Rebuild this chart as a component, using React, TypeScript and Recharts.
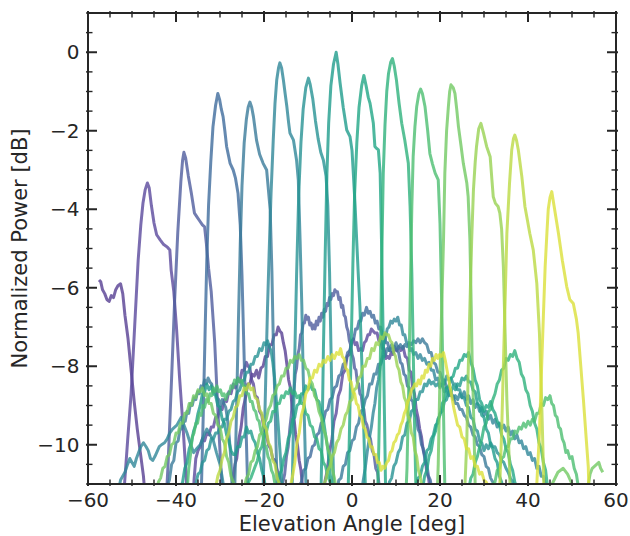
import React from 'react';
import { LineChart, Line, XAxis, YAxis } from 'recharts';

type Pt = [number, number];

// tick positions (minor + major) and the labelled ones
const xTicks = [-60, -55, -50, -45, -40, -35, -30, -25, -20, -15, -10, -5, 0, 5, 10, 15, 20, 25, 30, 35, 40, 45, 50, 55, 60];
const xLabelTicks = [-60, -40, -20, 0, 20, 40, 60];
const yTicks = [-11, -10.5, -10, -9.5, -9, -8.5, -8, -7.5, -7, -6.5, -6, -5.5, -5, -4.5, -4, -3.5, -3, -2.5, -2, -1.5, -1, -0.5, 0, 0.5, 1];
const yLabelTicks = [-10, -8, -6, -4, -2, 0];

// one array per beam: [elevation deg, power dB]
const beam00: Pt[] = [[-57.5,-5.8],[-57.1,-5.85],[-56.7,-6.05],[-56.2,-6.15],[-55.7,-6.3],[-55.2,-6.35],[-54.7,-6.2],[-54.2,-6.25],[-53.7,-6.05],[-53.2,-5.95],[-52.6,-5.9],[-52.1,-6.15],[-51.6,-6.7],[-50.9,-7.3],[-50.2,-8.1],[-49.5,-8.9],[-48.8,-9.6],[-48.1,-10.2],[-47.4,-10.8],[-46.8,-11.6],[-44,-12.6],[-30,-12.6],[-27.6,-11.2],[-27.1,-10.95],[-26.6,-10.5],[-26.2,-10.35],[-25.7,-9.85],[-25.2,-9.55],[-24.7,-9.05],[-24.2,-8.8],[-23.7,-8.45],[-23.2,-8.45],[-22.7,-8.2],[-22.2,-8.25],[-21.7,-8.1],[-21.2,-8.3],[-20.7,-8.05],[-20.2,-8],[-19.7,-7.75],[-19.2,-7.75],[-18.7,-7.45],[-18.2,-7.45],[-17.7,-7.2],[-17.2,-7.2],[-16.8,-7],[-16.4,-7.1],[-16,-7.15],[-15.6,-7.4],[-15.2,-7.6],[-14.8,-7.95],[-14.4,-8.35],[-14,-8.55],[-13.6,-9.05],[-13.2,-9.3],[-12.8,-9.75],[-12.4,-10],[-12,-10.4],[-11.6,-10.65],[-11.2,-11.1],[-9,-12.6]];
const beam01: Pt[] = [[-52.2,-12.4],[-51.7,-11],[-51,-9.9],[-50.2,-8.7],[-49.4,-7],[-48.6,-5.3],[-48,-4.4],[-47.5,-3.84],[-47,-3.5],[-46.5,-3.33],[-46.1,-3.45],[-45.6,-3.9],[-45,-4.35],[-44.4,-4.65],[-43.6,-4.78],[-42.8,-4.9],[-42,-4.96],[-41.4,-5.04],[-41.1,-5.55],[-40.5,-6.1],[-39.9,-7],[-39.2,-8.27],[-38.4,-9.54],[-37.7,-10.8],[-37.2,-12.2],[-36.5,-12.4],[-35.9,-10.9],[-35.5,-10.35],[-35,-10.15],[-34.5,-10.05],[-34,-9.85],[-33.5,-9.9],[-33,-9.7],[-32.5,-9.75],[-32,-9.55],[-31.5,-9.55],[-31,-9.3],[-30.5,-9.3],[-30,-9.05],[-29.5,-9.1],[-29,-8.85],[-28.5,-8.9],[-28,-8.65],[-27.5,-8.7],[-27,-8.45],[-26.5,-8.55],[-26,-8.3],[-25.5,-8.4],[-25,-8.1],[-24.5,-8.1],[-24,-7.9],[-23.6,-8],[-23.2,-8.05],[-22.8,-8.35],[-22.4,-8.45],[-22,-8.75],[-21.5,-8.8],[-21,-9.15],[-20.5,-9.25],[-20,-9.6],[-19.5,-9.7],[-19,-10],[-18.5,-10.1],[-18,-10.35],[-17.5,-10.4],[-17,-10.65],[-16.5,-10.8],[-16,-11.1],[-15.5,-11.4],[-14,-12.4],[-8,-12.6],[-6.6,-11.4],[-6.1,-10.9],[-5.6,-10.65],[-5.1,-10.15],[-4.6,-9.9],[-4.1,-9.4],[-3.6,-9.2],[-3.1,-8.75],[-2.6,-8.6],[-2.1,-8.2],[-1.6,-8.1],[-1.1,-7.75],[-0.6,-7.7],[-0.1,-7.4],[0.3,-7.3],[0.7,-7.45],[1.1,-7.4],[1.5,-7.6],[2,-7.55],[2.4,-7.6],[2.8,-7.4],[3.2,-7.35],[3.6,-7.2],[4,-7.2],[4.4,-7.05],[4.8,-7.1],[5.2,-7.15],[5.7,-7.15],[6.1,-7.35],[6.5,-7.3],[6.9,-7.55],[7.3,-7.55],[7.7,-7.8],[8.1,-7.75],[8.5,-7.8],[8.9,-7.65],[9.3,-7.7],[9.7,-7.55],[10.2,-7.6],[10.6,-7.5],[11.1,-7.6],[11.6,-7.5],[12.1,-7.75],[12.6,-7.8],[13,-8.1],[13.4,-8.15],[13.8,-8.55],[14.2,-8.7],[14.6,-9.1],[15,-9.3],[15.4,-9.6],[15.8,-9.8],[16.2,-10.15],[16.6,-10.3],[17,-10.7],[17.4,-10.85],[17.8,-11.2],[18.2,-11.4],[19.5,-12.4]];
const beam02: Pt[] = [[-42.6,-12.2],[-41.8,-10.5],[-41,-8.3],[-40.3,-6.3],[-39.6,-4.6],[-38.9,-3.3],[-38.5,-2.75],[-38.2,-2.55],[-37.8,-2.7],[-37.2,-3.15],[-36.5,-3.6],[-35.8,-4.1],[-35.2,-4.2],[-34.6,-4.3],[-34,-4.4],[-33.5,-4.45],[-33.1,-4.87],[-32.6,-5.5],[-32,-6.1],[-31.2,-7.4],[-30.5,-9.1],[-29.7,-10.8],[-29.2,-12.2],[-20,-12.6],[-16.2,-11.5],[-15.8,-11],[-15.3,-10.75],[-14.9,-10.3],[-14.5,-10.05],[-14.1,-9.55],[-13.8,-9.25],[-13.5,-8.8],[-13.2,-8.65],[-12.9,-8.2],[-12.6,-8.05],[-12.3,-7.7],[-12,-7.55],[-11.7,-7.2],[-11.4,-7.15],[-11.1,-6.9],[-10.8,-6.9],[-10.5,-6.7],[-10.2,-6.8],[-9.9,-6.75],[-9.6,-6.95],[-9.3,-6.9],[-9,-7.05],[-8.7,-6.95],[-8.4,-7.05],[-8.1,-6.85],[-7.8,-6.95],[-7.5,-6.75],[-7.2,-6.85],[-6.9,-6.65],[-6.6,-6.75],[-6.3,-6.55],[-6,-6.6],[-5.7,-6.4],[-5.4,-6.45],[-5.1,-6.25],[-4.8,-6.3],[-4.5,-6.15],[-4.2,-6.2],[-3.9,-6.05],[-3.6,-6.1],[-3.3,-6.1],[-3,-6.3],[-2.7,-6.25],[-2.4,-6.5],[-2.1,-6.45],[-1.8,-6.7],[-1.5,-6.75],[-1.2,-7],[-0.9,-7.1],[-0.6,-7.35],[-0.3,-7.45],[0,-7.7],[0.3,-7.8],[0.6,-8.05],[0.9,-8.1],[1.2,-8.4],[1.5,-8.45],[1.8,-8.7],[2.1,-8.75],[2.4,-9.05],[2.7,-9.1],[3,-9.4],[3.4,-9.5],[3.8,-9.75],[4.2,-9.85],[4.6,-10.15],[5,-10.25],[5.4,-10.6],[5.8,-10.7],[6.2,-11.05],[6.6,-11.2],[7.5,-12.4]];
const beam03: Pt[] = [[-34.6,-12.3],[-34.2,-11],[-33.8,-9.2],[-33.4,-7.2],[-33,-5.3],[-32.6,-3.9],[-32.1,-2.8],[-31.6,-1.9],[-31,-1.35],[-30.5,-1.05],[-30.1,-1.2],[-29.7,-1.45],[-29.3,-1.64],[-28.9,-2],[-28.5,-2.4],[-27.7,-2.83],[-27,-3],[-26.5,-3.2],[-25.9,-3.6],[-25.4,-4.4],[-25,-5.7],[-24.6,-7.4],[-24.2,-9.1],[-23.8,-10.7],[-23.5,-12.2],[-16,-12.6],[-12.5,-11.4],[-12,-11.05],[-11.5,-10.95],[-11,-10.65],[-10.5,-10.6],[-10,-10.35],[-9.5,-10.3],[-9,-10.05],[-8.5,-10],[-8,-9.75],[-7.5,-9.7],[-7,-9.45],[-6.5,-9.4],[-6,-9.15],[-5.5,-9.1],[-5,-8.85],[-4.5,-8.8],[-4,-8.55],[-3.5,-8.5],[-3,-8.25],[-2.5,-8.2],[-2,-7.95],[-1.5,-7.9],[-1,-7.65],[-0.5,-7.6],[0,-7.35],[0.4,-7.3],[0.8,-7.05],[1.2,-7.05],[1.6,-6.85],[2,-6.85],[2.4,-6.65],[2.8,-6.7],[3.3,-6.5],[3.7,-6.65],[4.1,-6.6],[4.5,-6.75],[4.9,-6.7],[5.3,-6.9],[5.7,-6.85],[6.1,-7.05],[6.5,-7],[6.9,-7.2],[7.3,-7.2],[7.7,-7.4],[8.1,-7.4],[8.5,-7.6],[8.9,-7.55],[9.3,-7.65],[9.7,-7.5],[10.2,-7.6],[10.6,-7.65],[11,-7.9],[11.4,-7.95],[11.8,-8.2],[12.2,-8.25],[12.6,-8.5],[13,-8.55],[13.4,-8.85],[13.8,-8.9],[14.2,-9.2],[14.6,-9.3],[15,-9.6],[15.4,-9.7],[15.8,-10],[16.2,-10.1],[16.6,-10.4],[17,-10.5],[17.4,-10.8],[17.8,-10.9],[18.2,-11.2],[18.6,-11.3],[19,-11.6],[21,-12.5]];
const beam04: Pt[] = [[-46,-12.6],[-42.5,-11.4],[-42,-11.05],[-41.5,-10.9],[-41,-10.5],[-40.5,-10.4],[-40,-9.95],[-39.5,-9.9],[-39.1,-9.6],[-38.7,-9.6],[-38.3,-9.4],[-37.9,-9.4],[-37.5,-9.15],[-37.1,-9.2],[-36.7,-8.95],[-36.3,-9],[-35.9,-8.8],[-35.5,-8.85],[-35.1,-8.65],[-34.7,-8.7],[-34.3,-8.5],[-33.9,-8.55],[-33.5,-8.35],[-33.1,-8.45],[-32.7,-8.3],[-32.3,-8.4],[-31.9,-8.45],[-31.5,-8.65],[-31.1,-8.6],[-30.7,-8.8],[-30.3,-8.85],[-29.9,-9],[-29.5,-8.85],[-29.1,-8.95],[-28.7,-9.05],[-28.3,-9.35],[-27.9,-9.8],[-27.5,-10.4],[-27.1,-11.5],[-26.9,-12.2],[-26.6,-10.9],[-26.2,-8.9],[-25.8,-6.8],[-25.4,-4.9],[-25,-3.4],[-24.5,-2.3],[-24,-1.7],[-23.6,-1.4],[-23.2,-1.27],[-22.8,-1.4],[-22.4,-1.64],[-21.7,-2.24],[-21,-2.6],[-20.2,-2.83],[-19.4,-3],[-19,-3.5],[-18.6,-4],[-18.2,-5.6],[-17.9,-7.3],[-17.5,-9],[-17.1,-10.7],[-16.8,-12.2],[-8,-12.6],[-4,-11.4],[-3.5,-11.25],[-3,-10.9],[-2.5,-10.85],[-2,-10.55],[-1.5,-10.5],[-1,-10.2],[-0.5,-10.15],[0,-9.9],[0.5,-9.85],[1,-9.55],[1.5,-9.45],[2,-9.15],[2.5,-9.1],[3,-8.85],[3.5,-8.75],[4,-8.45],[4.5,-8.45],[5,-8.2],[5.5,-8.2],[6,-7.95],[6.5,-7.95],[7,-7.75],[7.5,-7.75],[8,-7.55],[8.5,-7.6],[9,-7.45],[9.5,-7.55],[10,-7.4],[10.5,-7.55],[11,-7.45],[11.5,-7.55],[12,-7.45],[12.5,-7.5],[13,-7.4],[13.5,-7.45],[14,-7.35],[14.5,-7.4],[15,-7.3],[15.5,-7.4],[16,-7.3],[16.5,-7.4],[17,-7.45],[17.5,-7.65],[18,-7.65],[18.5,-7.9],[19,-7.95],[19.5,-8.15],[20,-8.15],[20.5,-8.35],[21,-8.35],[21.5,-8.55],[22,-8.55],[22.5,-8.75],[23,-8.75],[23.5,-8.95],[24,-8.95],[24.5,-9.1],[25,-9.1],[25.5,-9.25],[26,-9.3],[26.5,-9.5],[27,-9.55],[27.5,-9.75],[28,-9.8],[28.5,-10],[29,-10.05],[29.5,-10.25],[30,-10.3],[30.5,-10.55],[31,-10.6],[31.5,-10.85],[32,-10.95],[32.5,-11.2],[33.5,-11.6],[35,-12.5]];
const beam05: Pt[] = [[-54.5,-12.2],[-53.5,-11.4],[-52.6,-10.9],[-51.6,-10.7],[-51,-10.5],[-50.5,-10.35],[-50,-10.45],[-49.5,-10.55],[-49,-10.35],[-48.5,-10.2],[-48,-10.05],[-47.4,-9.95],[-46.8,-10.05],[-46.3,-10.15],[-45.8,-10.35],[-45.3,-10.4],[-44.8,-10.3],[-44.4,-10.2],[-43.8,-10.05],[-43.3,-10],[-42.6,-9.95],[-42,-9.85],[-41.4,-9.7],[-40.8,-9.6],[-40.3,-9.55],[-39.8,-9.5],[-39.3,-9.4],[-38.8,-9.3],[-38.2,-9.5],[-37.5,-9.7],[-36.8,-9.95],[-36,-10.2],[-35.3,-10.1],[-34.5,-10],[-33.8,-9.8],[-33,-9.6],[-32.2,-9.75],[-31.5,-9.9],[-30.8,-10.2],[-30,-10.5],[-29.4,-10.9],[-28.8,-11.4],[-28,-12.3],[-21,-12.4],[-20.3,-11.6],[-20,-10.2],[-19.6,-8.3],[-19.2,-6.5],[-18.8,-5],[-18.4,-3.6],[-17.9,-2.24],[-17.5,-1.3],[-17.1,-0.7],[-16.7,-0.4],[-16.4,-0.27],[-16,-0.4],[-15.6,-0.7],[-15.2,-1.05],[-14.8,-1.39],[-14.4,-1.8],[-14.1,-2.06],[-13.3,-2.24],[-12.6,-2.75],[-12.2,-3.26],[-11.8,-4.78],[-11.4,-6.48],[-11.1,-8.2],[-10.7,-9.9],[-10.4,-11.4],[-10.1,-12.3],[-1,-12.6],[2,-11.4],[2.5,-10.95],[3,-10.6],[3.5,-10.15],[4,-9.8],[4.4,-9.55],[4.8,-9.2],[5.2,-8.95],[5.6,-8.55],[6,-8.35],[6.4,-8],[6.8,-7.8],[7.2,-7.45],[7.6,-7.3],[8,-7.05],[8.4,-7],[8.8,-6.85],[9.2,-6.9],[9.6,-6.8],[10,-6.85],[10.4,-6.75],[10.8,-6.95],[11.2,-6.95],[11.6,-7.2],[12,-7.2],[12.4,-7.4],[12.8,-7.4],[13.2,-7.6],[13.6,-7.55],[14,-7.7],[14.5,-7.65],[15,-7.8],[15.5,-7.7],[16,-7.85],[16.5,-7.8],[17,-7.95],[17.5,-7.9],[18,-8.1],[18.5,-8.1],[19,-8.35],[19.5,-8.3],[20,-8.5],[20.5,-8.45],[21,-8.65],[21.5,-8.55],[22,-8.75],[22.5,-8.65],[23,-8.85],[23.5,-8.75],[24,-8.85],[24.5,-8.7],[25,-8.8],[25.5,-8.65],[26,-8.85],[26.5,-8.75],[27,-8.95],[27.5,-8.85],[28,-9.05],[28.5,-8.95],[29,-9.15],[29.5,-9.05],[30,-9.25],[30.5,-9.15],[31,-9.35],[31.5,-9.25],[32,-9.45],[32.5,-9.35],[33,-9.55],[33.5,-9.45],[34,-9.6],[34.5,-9.5],[35,-9.65],[35.5,-9.55],[36,-9.75],[36.5,-9.65],[37,-9.85],[37.5,-9.75],[38,-9.95],[38.5,-9.9],[39,-10.1],[39.5,-10.05],[40,-10.25],[40.5,-10.2],[41,-10.4],[41.5,-10.35],[42,-10.6],[42.5,-10.55],[43,-10.8],[43.5,-10.8],[44,-11.05],[44.5,-11.1],[45.5,-11.4],[47,-12.3]];
const beam06: Pt[] = [[-40,-12.5],[-36.5,-11.4],[-36,-11.1],[-35.5,-11],[-35,-10.75],[-34.5,-10.7],[-34,-10.45],[-33.5,-10.4],[-33,-10.15],[-32.5,-10.1],[-32,-9.85],[-31.5,-9.85],[-31,-9.7],[-30.5,-9.7],[-30,-9.55],[-29.5,-9.55],[-29,-9.35],[-28.5,-9.35],[-28,-9.15],[-27.5,-9.1],[-27,-8.9],[-26.5,-8.85],[-26,-8.65],[-25.5,-8.6],[-25,-8.4],[-24.5,-8.35],[-24,-8.15],[-23.5,-8.15],[-23,-7.95],[-22.5,-7.95],[-22,-7.75],[-21.5,-7.75],[-21,-7.55],[-20.5,-7.6],[-20,-7.4],[-19.6,-7.45],[-19.2,-7.35],[-18.8,-7.5],[-18.4,-7.6],[-18,-7.9],[-17.6,-8.3],[-17.2,-8.85],[-16.8,-9.45],[-16.4,-10.1],[-16,-10.8],[-15.5,-11.7],[-14.5,-12.5],[-13.9,-12.2],[-13.5,-10.6],[-13.1,-8.2],[-12.6,-5.7],[-12.1,-3.6],[-11.6,-2.3],[-11.1,-1.45],[-10.5,-0.9],[-9.9,-0.66],[-9.5,-0.82],[-8.9,-1.2],[-8.3,-1.75],[-7.7,-2.2],[-7.1,-2.55],[-6.5,-2.75],[-5.9,-3.15],[-5.5,-3.9],[-5.1,-5.6],[-4.8,-7.4],[-4.5,-9.2],[-4.2,-10.9],[-3.9,-12.3],[4,-12.6],[7.5,-11.4],[8,-11.25],[8.5,-10.95],[9,-10.85],[9.5,-10.55],[10,-10.45],[10.5,-10.2],[11,-10.1],[11.5,-9.8],[12,-9.75],[12.5,-9.45],[13,-9.4],[13.5,-9.15],[14,-9.1],[14.5,-8.85],[15,-8.85],[15.5,-8.65],[16,-8.65],[16.5,-8.45],[17,-8.5],[17.5,-8.35],[18,-8.45],[18.5,-8.4],[19,-8.5],[19.5,-8.45],[20,-8.55],[20.5,-8.4],[21,-8.45],[21.5,-8.25],[22,-8.35],[22.5,-8.3],[23,-8.45],[23.5,-8.45],[24,-8.6],[24.5,-8.6],[25,-8.8],[25.5,-8.8],[26,-9],[26.5,-9.05],[27,-9.3],[27.5,-9.35],[28,-9.6],[28.5,-9.65],[29,-9.9],[29.5,-9.95],[30,-10.15],[30.5,-10],[31,-10.1],[31.5,-9.95],[32,-10.05],[32.5,-10.05],[33,-10.2],[33.5,-10.25],[34,-10.4],[34.5,-10.45],[35,-10.6],[35.5,-10.7],[36,-10.85],[36.5,-10.95],[37,-11.15],[38,-11.4],[40,-12.4]];
const beam07: Pt[] = [[-43,-12.6],[-39.5,-11.4],[-39,-11.1],[-38.5,-10.95],[-38,-10.6],[-37.5,-10.45],[-37,-10.1],[-36.5,-9.95],[-36,-9.65],[-35.5,-9.5],[-35,-9.2],[-34.5,-9],[-34,-8.7],[-33.5,-8.65],[-33,-8.45],[-32.5,-8.6],[-32,-8.5],[-31.5,-8.7],[-31,-8.75],[-30.5,-9],[-30,-9.05],[-29.5,-9.35],[-29,-9.45],[-28.5,-9.75],[-28,-9.9],[-27.5,-10.15],[-27,-10.25],[-26.5,-10.25],[-26,-10.05],[-25.5,-10.05],[-25,-9.8],[-24.5,-9.8],[-24,-9.55],[-23.5,-9.7],[-23,-9.65],[-22.5,-9.85],[-22,-9.95],[-21.5,-10.2],[-21,-10.35],[-20.5,-10.65],[-20,-10.85],[-19.5,-11.2],[-18,-12.4],[-8,-12.5],[-7.2,-12.1],[-6.8,-9.8],[-6.5,-7.6],[-6.1,-5.2],[-5.7,-3.1],[-5.3,-1.8],[-4.8,-0.85],[-4.2,-0.3],[-3.6,0],[-3.2,-0.3],[-2.7,-0.79],[-2,-1.4],[-1.2,-1.98],[-0.45,-2.15],[0,-2.5],[0.3,-3.08],[0.7,-3.9],[1.06,-4.78],[1.4,-5.6],[1.8,-6.48],[2.2,-7.8],[2.6,-9.3],[2.95,-10.7],[3.3,-12.2],[10,-12.6],[13.5,-11.4],[14,-11.2],[14.5,-11.05],[15,-10.85],[15.5,-10.8],[16,-10.55],[16.5,-10.45],[17,-10.15],[17.5,-10.1],[18,-9.85],[18.5,-9.75],[19,-9.5],[19.5,-9.45],[20,-9.2],[20.5,-9.15],[21,-8.9],[21.5,-8.85],[22,-8.65],[22.5,-8.65],[23,-8.5],[23.5,-8.6],[24,-8.45],[24.5,-8.5],[25,-8.3],[25.5,-8.35],[26,-8.25],[26.5,-8.4],[27,-8.4],[27.5,-8.6],[28,-8.65],[28.5,-8.95],[29,-9],[29.5,-9.25],[30,-9.3],[30.5,-9.6],[31,-9.7],[31.5,-10],[32,-10.1],[32.5,-10.35],[33,-10.45],[33.5,-10.8],[34,-10.95],[35.5,-11.8],[37,-12.5]];
const beam08: Pt[] = [[-21,-12.6],[-17.5,-11.3],[-17,-11.1],[-16.5,-10.75],[-16,-10.65],[-15.5,-10.35],[-15,-10.2],[-14.5,-9.85],[-14,-9.7],[-13.5,-9.35],[-13,-9.3],[-12.5,-9],[-12,-8.95],[-11.5,-8.7],[-11,-8.7],[-10.5,-8.5],[-10,-8.6],[-9.5,-8.45],[-9,-8.6],[-8.5,-8.6],[-8,-8.85],[-7.5,-8.9],[-7,-9.2],[-6.5,-9.35],[-6,-9.75],[-5.5,-10.1],[-5,-10.7],[-4.5,-11.2],[-3.6,-12.2],[-1.3,-12.4],[-0.9,-11.3],[-0.6,-9.8],[-0.2,-7.6],[0.2,-5.4],[0.6,-3.6],[1.1,-2.3],[1.6,-1.4],[2.2,-0.85],[2.7,-0.59],[3.2,-0.85],[3.7,-1.15],[4.1,-1.3],[4.85,-1.81],[5.2,-2.4],[5.6,-2.45],[6,-2.49],[6.4,-3.08],[6.7,-4.78],[7.1,-7.33],[7.4,-9.4],[7.6,-10.9],[7.9,-12.2],[12,-12.6],[15.5,-11.3],[16,-11.15],[16.5,-10.8],[17,-10.65],[17.5,-10.3],[18,-10.15],[18.5,-9.8],[19,-9.65],[19.5,-9.35],[20,-9.25],[20.5,-8.95],[21,-8.85],[21.5,-8.55],[22,-8.5],[22.5,-8.3],[23,-8.25],[23.5,-8.05],[24,-8.05],[24.5,-7.85],[25,-7.85],[25.5,-7.7],[26,-7.75],[26.5,-7.65],[27,-7.9],[27.5,-8.05],[28,-8.35],[28.5,-8.5],[29,-8.85],[29.5,-8.95],[30,-9.15],[30.5,-9],[31,-9.05],[31.5,-8.9],[32,-9.1],[32.5,-9.2],[33,-9.4],[33.5,-9.5],[34,-9.75],[34.5,-9.85],[35,-10.1],[35.5,-10.2],[36,-10.5],[36.5,-10.65],[37,-10.95],[37.5,-11.1],[39,-12.3]];
const beam09: Pt[] = [[-29,-12.6],[-25,-11.5],[-24.5,-11.3],[-24,-11.2],[-23.5,-10.95],[-23,-10.85],[-22.5,-10.7],[-22,-10.55],[-21.5,-10.4],[-21,-10.15],[-20.5,-10.05],[-20,-9.75],[-19.5,-9.7],[-19,-9.45],[-18.5,-9.4],[-18,-9.15],[-17.5,-9.15],[-17,-8.95],[-16.5,-8.95],[-16,-8.75],[-15.5,-8.8],[-15,-8.65],[-14.5,-8.7],[-14,-8.55],[-13.5,-8.7],[-13,-8.65],[-12.5,-8.8],[-12,-8.75],[-11.5,-8.95],[-11,-8.95],[-10.5,-9.2],[-10,-9.25],[-9.5,-9.5],[-9,-9.55],[-8.5,-9.8],[-8,-9.85],[-7.5,-10.1],[-7,-10.15],[-6.5,-10.45],[-6,-10.55],[-5.5,-10.8],[-5,-10.95],[-4,-11.5],[-2,-12.5],[5.4,-12.4],[5.8,-11.4],[6.1,-10],[6.4,-8.2],[6.7,-5.7],[7.1,-3.1],[7.5,-1.85],[7.9,-1],[8.3,-0.54],[8.8,-0.25],[9.2,-0.16],[9.6,-0.35],[10.1,-0.71],[10.7,-1.3],[11.3,-1.81],[12,-2.24],[12.8,-2.83],[13.2,-3.93],[13.6,-5.63],[13.9,-7.5],[14.2,-9.4],[14.5,-11],[14.8,-12.3],[22,-12.6],[26,-11.3],[26.5,-11.15],[27,-10.85],[27.5,-10.75],[28,-10.45],[28.5,-10.3],[29,-10.05],[29.5,-9.85],[30,-9.55],[30.5,-9.45],[31,-9.15],[31.5,-9.1],[32,-8.85],[32.5,-8.7],[33,-8.45],[33.5,-8.35],[34,-8.1],[34.5,-8.05],[35,-7.8],[35.5,-7.85],[36,-7.7],[36.5,-7.75],[37,-7.6],[37.5,-7.8],[38,-7.9],[38.5,-8.2],[39,-8.3],[39.5,-8.6],[40,-8.7],[40.5,-9],[41,-9.15],[41.5,-9.45],[42,-9.6],[42.5,-9.95],[43,-10.1],[43.5,-10.45],[44,-10.65],[45,-11.6],[46,-12.4]];
const beam10: Pt[] = [[-40,-12.6],[-37.5,-11.2],[-37.1,-10.6],[-36.7,-10.25],[-36.3,-9.8],[-35.9,-9.7],[-35.5,-9.45],[-35.1,-9.45],[-34.7,-9.2],[-34.3,-9.25],[-33.9,-9],[-33.5,-9.05],[-33.1,-8.85],[-32.7,-8.9],[-32.3,-8.7],[-31.9,-8.75],[-31.5,-8.55],[-31.1,-8.65],[-30.7,-8.5],[-30.3,-8.65],[-29.9,-8.6],[-29.5,-8.75],[-29.1,-8.7],[-28.7,-8.85],[-28.3,-8.7],[-27.9,-8.7],[-27.5,-8.5],[-27.1,-8.55],[-26.7,-8.35],[-26.3,-8.45],[-25.9,-8.3],[-25.5,-8.4],[-25.1,-8.35],[-24.7,-8.5],[-24.3,-8.5],[-23.9,-8.7],[-23.5,-8.7],[-23.1,-8.9],[-22.7,-8.9],[-22.3,-9.1],[-21.9,-9.15],[-21.5,-9.35],[-21.1,-9.4],[-20.7,-9.65],[-20.3,-9.75],[-19.9,-10],[-19.5,-10.05],[-19.1,-10.3],[-18.7,-10.4],[-18.3,-10.65],[-17.9,-10.75],[-17.5,-11],[-16.5,-11.6],[-15,-12.5],[11.8,-12.5],[12.2,-11.4],[12.5,-10.6],[12.8,-9.03],[13.2,-6.48],[13.6,-3.93],[13.9,-2.66],[14.3,-1.9],[14.7,-1.39],[15.2,-1.05],[15.6,-0.94],[16,-1.05],[16.6,-1.39],[17.2,-2],[17.7,-2.58],[18.3,-2.85],[18.9,-3.08],[19.6,-3.25],[20,-4.36],[20.4,-6.48],[20.7,-8.5],[21,-10.5],[21.3,-12.2],[27,-12.6],[31,-11.4],[31.5,-11.3],[32,-11],[32.5,-10.95],[33,-10.65],[33.5,-10.6],[34,-10.35],[34.5,-10.3],[35,-10.05],[35.5,-10.05],[36,-9.85],[36.5,-9.85],[37,-9.65],[37.5,-9.7],[38,-9.55],[38.5,-9.6],[39,-9.45],[39.5,-9.55],[40,-9.4],[40.5,-9.5],[41,-9.35],[41.5,-9.4],[42,-9.2],[42.5,-9.2],[43,-8.95],[43.5,-9],[44,-8.8],[44.5,-8.85],[45,-8.75],[45.4,-8.95],[45.8,-9],[46.2,-9.25],[46.6,-9.3],[47,-9.55],[47.4,-9.6],[47.8,-9.85],[48.2,-9.95],[48.6,-10.2],[49,-10.15],[49.5,-10.35],[50,-10.3],[50.5,-10.6],[51,-10.75],[51.6,-11.2],[52.5,-12.2]];
const beam11: Pt[] = [[-48,-12.6],[-45,-11.4],[-44.5,-11.25],[-44,-10.95],[-43.5,-10.85],[-43,-10.6],[-42.5,-10.55],[-42,-10.3],[-41.5,-10.25],[-41,-10],[-40.5,-9.95],[-40,-9.7],[-39.5,-9.7],[-39,-9.45],[-38.5,-9.45],[-38,-9.2],[-37.5,-9.2],[-37,-8.95],[-36.5,-9],[-36,-8.75],[-35.5,-8.8],[-35,-8.6],[-34.5,-8.65],[-34,-8.55],[-33.5,-8.75],[-33,-8.7],[-32.5,-8.95],[-32,-8.95],[-31.5,-9.2],[-31,-9.25],[-30.5,-9.5],[-30,-9.55],[-29.5,-9.85],[-29,-9.95],[-28.5,-10.3],[-28,-10.45],[-27.5,-10.8],[-27,-10.95],[-26,-11.3],[-25,-11.2],[-24.5,-11.1],[-24,-10.85],[-23.5,-10.75],[-23,-10.45],[-22.5,-10.4],[-22,-10.15],[-21.5,-10.05],[-21,-9.75],[-20.5,-9.7],[-20,-9.45],[-19.5,-9.35],[-19,-9.1],[-18.5,-9],[-18,-8.75],[-17.5,-8.7],[-17,-8.5],[-16.5,-8.45],[-16,-8.25],[-15.5,-8.25],[-15,-8.05],[-14.5,-8.05],[-14,-7.85],[-13.5,-7.9],[-13,-7.75],[-12.5,-7.8],[-12,-7.7],[-11.5,-7.85],[-11,-7.85],[-10.5,-8.05],[-10,-8.1],[-9.5,-8.35],[-9,-8.45],[-8.5,-8.75],[-8,-8.85],[-7.5,-9.15],[-7,-9.3],[-6.5,-9.6],[-6,-9.75],[-5.5,-10.1],[-5,-10.25],[-4.5,-10.6],[-4,-10.85],[-3.5,-11.2],[-2,-12.5],[19,-12.5],[19.3,-11.5],[19.6,-10.5],[20,-8.2],[20.4,-6.48],[20.8,-4.78],[21.1,-3.08],[21.5,-2],[21.9,-1.39],[22.2,-1],[22.5,-0.83],[23,-0.9],[23.4,-1.05],[23.8,-1.45],[24.2,-1.9],[24.8,-2.4],[25.3,-2.83],[26.1,-3.34],[26.4,-3.68],[26.8,-4.78],[27.1,-6.5],[27.3,-7.8],[27.6,-9.03],[27.9,-10.5],[28.2,-12.2],[40,-12.6],[44,-11.5],[45.5,-11],[46.8,-10.7],[48,-10.6],[49,-10.75],[50,-11],[51,-11.3],[52,-11.5],[53,-11.4],[53.6,-11.1],[54.1,-10.75],[54.6,-10.6],[55.1,-10.55],[55.6,-10.5],[56.1,-10.45],[56.5,-10.6],[57,-10.7]];
const beam12: Pt[] = [[-11,-12.6],[-7,-11.3],[-6.5,-11.05],[-6,-10.9],[-5.5,-10.65],[-5,-10.55],[-4.5,-10.3],[-4,-10.2],[-3.5,-9.95],[-3,-9.85],[-2.5,-9.6],[-2,-9.5],[-1.5,-9.25],[-1,-9.15],[-0.5,-8.9],[0,-8.85],[0.5,-8.6],[1,-8.55],[1.5,-8.3],[2,-8.25],[2.5,-8],[3,-8],[3.5,-7.8],[4,-7.8],[4.5,-7.55],[5,-7.6],[5.5,-7.4],[6,-7.45],[6.5,-7.25],[7,-7.3],[7.5,-7.15],[7.9,-7.2],[8.3,-7.2],[8.7,-7.35],[9.1,-7.4],[9.5,-7.65],[9.9,-7.75],[10.3,-8],[10.7,-8.1],[11.1,-8.4],[11.5,-8.5],[11.9,-8.8],[12.3,-8.9],[12.7,-9.25],[13.1,-9.35],[13.5,-9.7],[13.9,-9.8],[14.3,-10.15],[14.7,-10.3],[15.1,-10.65],[15.5,-10.8],[16,-11.15],[17,-11.8],[18,-12.5],[25.2,-12.5],[25.6,-11.2],[25.8,-10.7],[26.1,-9.88],[26.4,-8.18],[26.8,-6.48],[27.2,-4.78],[27.6,-3.51],[28,-2.8],[28.3,-2.4],[28.8,-1.95],[29.3,-1.81],[29.9,-2.07],[30.6,-2.4],[31.4,-2.66],[31.8,-3.25],[32.1,-3.68],[32.6,-3.85],[33.2,-3.93],[33.6,-4.1],[34,-4.5],[34.4,-5.46],[34.8,-7.16],[35.2,-8.86],[35.8,-10.56],[36.2,-12.2]];
const beam13: Pt[] = [[-35,-12.6],[-31.5,-11.3],[-31,-11.1],[-30.5,-10.8],[-30,-10.65],[-29.5,-10.35],[-29,-10.2],[-28.5,-9.85],[-28,-9.7],[-27.5,-9.4],[-27,-9.3],[-26.5,-9.05],[-26,-9],[-25.5,-8.75],[-25,-8.75],[-24.5,-8.55],[-24,-8.6],[-23.5,-8.45],[-23,-8.6],[-22.5,-8.55],[-22,-8.8],[-21.5,-8.85],[-21,-9.1],[-20.5,-9.2],[-20,-9.5],[-19.5,-9.6],[-19,-9.95],[-18.5,-10.05],[-18,-10.4],[-17.5,-10.5],[-17,-10.85],[-16.5,-11],[-15.5,-11.6],[-14,-12.5],[33.2,-12.4],[33.6,-11],[34,-9.7],[34.4,-8],[34.8,-6.31],[35.2,-4.61],[35.8,-3.34],[36.3,-2.49],[36.7,-2.2],[37,-2.11],[37.4,-2.25],[37.8,-2.49],[38.6,-3.17],[39.3,-3.93],[39.9,-4.3],[40.4,-4.61],[41.2,-5.04],[42,-5.89],[42.6,-7.16],[43.1,-8.86],[43.5,-10.56],[43.8,-12.2]];
const beam14: Pt[] = [[-17,-12.6],[-13.5,-10.8],[-13,-10.45],[-12.5,-9.95],[-12,-9.7],[-11.5,-9.25],[-11,-9.05],[-10.5,-8.7],[-10,-8.6],[-9.5,-8.3],[-9,-8.3],[-8.5,-8.1],[-8,-8.15],[-7.5,-7.95],[-7,-8],[-6.5,-7.85],[-6,-7.9],[-5.5,-7.75],[-5,-7.85],[-4.5,-7.7],[-4,-7.8],[-3.5,-7.65],[-3,-7.7],[-2.6,-7.55],[-2.2,-7.75],[-1.8,-7.8],[-1.4,-8.05],[-1,-8.1],[-0.6,-8.35],[-0.2,-8.4],[0.2,-8.65],[0.6,-8.7],[1,-8.95],[1.4,-9],[1.8,-9.25],[2.2,-9.3],[2.6,-9.55],[3,-9.6],[3.4,-9.8],[3.8,-9.85],[4.2,-10.05],[4.6,-10.05],[5,-10.25],[5.4,-10.25],[5.8,-10.45],[6.2,-10.45],[6.6,-10.65],[7,-10.55],[7.4,-10.6],[7.9,-10.45],[8.3,-10.4],[8.7,-10.2],[9.1,-10.15],[9.5,-9.95],[9.9,-9.9],[10.3,-9.75],[10.7,-9.7],[11.1,-9.5],[11.5,-9.4],[11.9,-9.2],[12.3,-9.1],[12.7,-8.9],[13.1,-8.8],[13.5,-8.6],[13.9,-8.55],[14.3,-8.45],[14.7,-8.5],[15.1,-8.35],[15.5,-8.45],[15.9,-8.25],[16.3,-8.3],[16.7,-8.1],[17.1,-8.15],[17.5,-7.95],[17.9,-8],[18.3,-7.8],[18.7,-7.85],[19.1,-7.7],[19.5,-7.8],[19.9,-7.7],[20.3,-7.75],[20.8,-7.65],[21.2,-7.85],[21.6,-8.1],[22,-8.35],[22.4,-8.6],[22.8,-8.85],[23.2,-9.1],[23.6,-9.3],[24,-9.5],[24.5,-9.55],[25,-9.8],[25.5,-9.85],[26,-10.1],[26.5,-10.1],[27,-10.35],[27.5,-10.3],[28,-10.55],[28.5,-10.55],[29,-10.75],[29.5,-10.7],[30,-10.9],[30.5,-10.95],[31.5,-11.2],[33,-12.2],[41.5,-12.5],[42,-11],[42.6,-9.7],[43.1,-8],[43.5,-6.7],[43.9,-5.46],[44.3,-4.6],[44.6,-4],[45,-3.7],[45.4,-3.55],[45.9,-3.9],[46.4,-4.25],[46.9,-4.6],[47.8,-5.3],[48.8,-5.97],[49.5,-6.3],[50.3,-6.4],[51,-6.8],[51.4,-7.15],[52,-8],[52.6,-8.86],[53.2,-9.8],[53.7,-10.56],[54.1,-12.2]];

const beams = [beam00, beam01, beam02, beam03, beam04, beam05, beam06, beam07, beam08, beam09, beam10, beam11, beam12, beam13, beam14];
const beamColors = ['#563f92', '#5a489c', '#4f5d9e', '#3f6c9c', '#3a7a9a', '#2f8799', '#279293', '#1f9c8c', '#20a686', '#2eb27c', '#4cbe70', '#72c963', '#98d253', '#bcd944', '#dbe03a'];

const INK = '#262626';
const FONT = '"DejaVu Sans", sans-serif';

const fmt = (v: number) => (v < 0 ? '\u2212' + Math.abs(v) : String(v));

const BottomTick = (props: any) => {
  const { x, y, payload } = props;
  const major = xLabelTicks.includes(payload.value);
  return (
    <g>
      <line x1={x} x2={x} y1={y} y2={y - (major ? 11 : 6.5)} stroke={INK} strokeWidth={major ? 2 : 1.4} />
      {major && (
        <text x={x} y={y + 21} textAnchor="middle" fontSize={20} fontFamily={FONT} fill={INK}>
          {fmt(payload.value)}
        </text>
      )}
    </g>
  );
};

const TopTick = (props: any) => {
  const { x, y, payload } = props;
  const major = xLabelTicks.includes(payload.value);
  return <line x1={x} x2={x} y1={y} y2={y + (major ? 11 : 6.5)} stroke={INK} strokeWidth={major ? 2 : 1.4} />;
};

const LeftTick = (props: any) => {
  const { x, y, payload } = props;
  const major = yLabelTicks.includes(payload.value);
  return (
    <g>
      <line x1={x} x2={x + (major ? 11 : 6.5)} y1={y} y2={y} stroke={INK} strokeWidth={major ? 2 : 1.4} />
      {major && (
        <text x={x - 6.5} y={y} dy="0.36em" textAnchor="end" fontSize={20} fontFamily={FONT} fill={INK}>
          {fmt(payload.value)}
        </text>
      )}
    </g>
  );
};

const RightTick = (props: any) => {
  const { x, y, payload } = props;
  const major = yLabelTicks.includes(payload.value);
  return <line x1={x} x2={x - (major ? 11 : 6.5)} y1={y} y2={y} stroke={INK} strokeWidth={major ? 2 : 1.4} />;
};

const frame = { stroke: INK, strokeWidth: 2 };

export default function App() {
  return (
    <div style={{ position: 'absolute', left: 0, top: 0, width: 630, height: 536 }}>
      <LineChart width={630} height={536} margin={{ top: 0, right: 0, bottom: 0, left: 0 }}>
        <XAxis xAxisId={0} type="number" dataKey="x" domain={[-60, 60]} ticks={xTicks} interval={0}
          allowDataOverflow tickSize={0} tickLine={false} axisLine={frame} height={52} tick={(p: any) => <BottomTick {...p} />} />
        <XAxis xAxisId="top" orientation="top" type="number" dataKey="x" domain={[-60, 60]} ticks={xTicks} interval={0}
          allowDataOverflow tickSize={0} tickLine={false} axisLine={frame} height={13} tick={(p: any) => <TopTick {...p} />} />
        <YAxis yAxisId={0} type="number" domain={[-11, 1]} ticks={yTicks} interval={0}
          allowDataOverflow tickSize={0} tickLine={false} axisLine={frame} width={88} tick={(p: any) => <LeftTick {...p} />} />
        <YAxis yAxisId="right" orientation="right" type="number" domain={[-11, 1]} ticks={yTicks} interval={0}
          allowDataOverflow tickSize={0} tickLine={false} axisLine={frame} width={14} tick={(p: any) => <RightTick {...p} />} />
        {beams.map((b, i) => (
          <Line
            key={i}
            xAxisId={0}
            yAxisId={0}
            data={b.map(([x, y]) => ({ x, y }))}
            dataKey="y"
            type="linear"
            stroke={beamColors[i]}
            strokeOpacity={0.8}
            strokeWidth={3}
            strokeLinejoin="round"
            dot={false}
            activeDot={false}
            isAnimationActive={false}
          />
        ))}
      </LineChart>
      <svg width={630} height={536} style={{ position: 'absolute', left: 0, top: 0, pointerEvents: 'none' }}>
        <text x={352} y={531} textAnchor="middle" fontSize={21} fontFamily={FONT} fill={INK}>
          Elevation Angle [deg]
        </text>
        <text x={26.7} y={248.5} transform="rotate(-90 26.7 248.5)" textAnchor="middle" fontSize={21} fontFamily={FONT} fill={INK}>
          Normalized Power [dB]
        </text>
      </svg>
    </div>
  );
}
